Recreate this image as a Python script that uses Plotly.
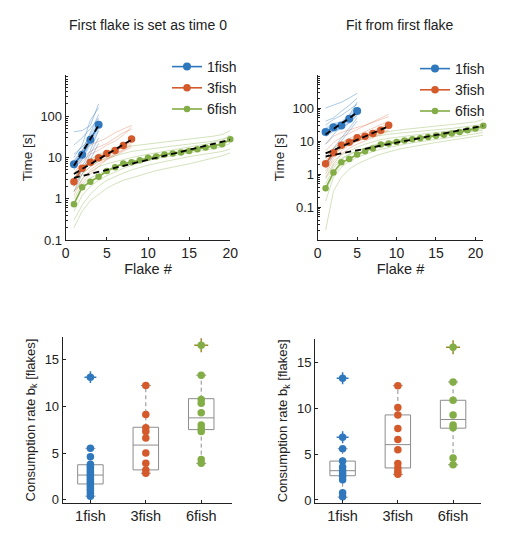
import plotly.graph_objects as go

# ---------------- data ----------------
groups = ["1fish", "3fish", "6fish"]
colors = ["#2f78bd", "#d45a2b", "#83ad46"]
thin_rgba = ["rgba(47,120,189,0.5)", "rgba(212,90,43,0.38)", "rgba(131,173,70,0.45)"]

# top-left: first flake set as time 0
L_x1 = [1, 2, 3, 4]
L_x3 = [1, 2, 3, 4, 5, 6, 7, 8]
L_x6 = list(range(1, 21))
L_mean1 = [6.9, 11.6, 27, 62]
L_mean3 = [2.6, 5.5, 7.7, 9.8, 12.5, 14.8, 19.5, 28]
L_mean6 = [0.74, 1.9, 2.6, 3.4, 4.7, 5.8, 7.2, 7.7, 8.6, 9.8,
           10.6, 11.8, 12.5, 13.2, 14.3, 15.9, 17.4, 18.8, 21.0, 27.6]
L_band1_lo = [5.2, 8.5, 19, 42]
L_band1_hi = [9.0, 16, 38, 90]
L_fit1 = [6.3, 60]
L_fit3 = [4.0, 27]
L_fit6 = [3.2, 27]
L_ind1 = [
    [42, 45, 60, 200],
    [10, 20, 80, 160],
    [5, 9, 25, 70],
    [3, 6, 15, 45],
    [12, 18, 30, 50],
    [2, 5, 12, 30],
    [7, 14, 40, 110],
    [1.5, 4, 9, 22],
    [20, 30, 50, 90],
]
L_ind3 = [
    [1.2, 3, 5, 7, 9, 12, 15, 20],
    [4, 8, 12, 15, 20, 25, 35, 55],
    [2, 4, 6, 8, 10, 12, 16, 22],
    [6, 10, 14, 18, 22, 30, 40, 48],
    [1.5, 2.5, 4, 6, 9, 11, 14, 18],
    [3, 6, 9, 11, 13, 16, 20, 28],
    [8, 15, 20, 25, 30, 40, 50, 60],
    [2.5, 5, 7, 9, 11, 14, 18, 24],
]
L_ind6 = [
    [0.2, 0.5, 0.9, 1.3, 1.8, 2.3, 2.8, 3.2, 3.7, 4.2, 4.8, 5.3, 5.9, 6.4, 7, 7.8, 8.5, 9.5, 11, 13],
    [0.5, 1.2, 2, 2.8, 3.6, 4.5, 5.5, 6.5, 7.5, 8.5, 9.4, 10.3, 11.2, 12, 13, 14, 15, 16.5, 18, 22],
    [2, 4, 6, 8, 9.5, 11, 12.5, 14, 15, 16, 17, 18, 19, 20, 21, 22, 23, 25, 28, 30],
    [1, 2.2, 3.2, 4, 5, 6, 7, 8, 9, 10, 11, 12, 13.5, 15, 16, 17, 18, 20, 22, 28],
    [0.3, 0.7, 1.3, 2, 2.8, 3.5, 4.2, 5, 5.8, 6.5, 7.2, 8, 8.8, 9.6, 10.5, 11.2, 12, 13, 14, 16],
    [3, 6, 9, 12, 14, 16, 17.5, 19, 20, 21.5, 23, 24, 25, 26.5, 28, 29.5, 31, 33, 36, 45],
    [0.8, 1.8, 2.8, 3.6, 4.6, 5.8, 7, 8, 9, 10, 11, 12, 13, 14, 15, 16, 17.5, 19, 21, 25],
    [1.5, 3, 4.5, 6, 7, 8, 9, 10, 11, 12, 13, 14, 15, 16.5, 18, 19.5, 21, 23, 26, 35],
]

# top-right: fit from first flake
R_x1 = [1, 2, 3, 4, 5]
R_x3 = [1, 2, 3, 4, 5, 6, 7, 8, 9]
R_x6 = list(range(1, 22))
R_mean1 = [18.6, 26, 29.7, 47.6, 81]
R_mean3 = [2.06, 4.4, 7.4, 9.2, 12.5, 14, 16.9, 21, 30]
R_mean6 = [0.37, 1.12, 2.26, 2.86, 3.9, 4.9, 5.9, 7.8, 8.4, 9.4, 10.4,
           11.3, 12.2, 13.2, 14.3, 15.5, 17, 18.8, 21, 24, 29]
R_band1_lo = [13, 19, 22, 34, 58]
R_band1_hi = [26, 35, 40, 65, 112]
R_fit1 = [15.8, 72]
R_fit3 = [4.2, 28]
R_fit6 = [3.4, 29]
R_ind1 = [
    [100, 120, 150, 200, 280],
    [40, 50, 80, 120, 200],
    [20, 25, 35, 60, 150],
    [8, 15, 30, 50, 90],
    [3, 6, 12, 25, 50],
    [15, 20, 25, 35, 60],
    [1.5, 4, 10, 20, 40],
    [30, 45, 60, 90, 130],
]
R_ind3 = [
    [1.2, 3, 5, 7.5, 10, 13, 16, 20, 28],
    [5, 9, 13, 17, 22, 28, 38, 50, 65],
    [2, 4, 6.5, 9, 11, 14, 18, 22, 30],
    [0.8, 2, 4, 6, 8, 10, 13, 16, 20],
    [3, 6, 9, 12, 15, 19, 24, 30, 40],
    [8, 14, 18, 22, 26, 30, 36, 45, 55],
    [1.5, 3.5, 6, 8, 10, 12, 14, 17, 22],
    [2.5, 5, 8, 10, 13, 16, 20, 26, 35],
]
R_ind6 = [
    [0.02, 0.3, 0.8, 1.4, 2, 2.6, 3.3, 4, 4.7, 5.4, 6.1, 6.8, 7.5, 8.2, 9, 9.8, 10.6, 11.5, 12.5, 13.5, 15],
    [0.15, 0.8, 1.6, 2.4, 3.2, 4, 4.8, 5.6, 6.4, 7.2, 8, 8.8, 9.6, 10.4, 11.2, 12, 13, 14, 15, 16, 18],
    [0.5, 1.5, 2.8, 3.8, 5, 6, 7, 8, 9, 10, 11, 12, 13, 14, 15, 16, 17, 18, 19.5, 21, 24],
    [1, 2.5, 3.8, 5, 6.5, 8, 9.5, 11, 12, 13, 14, 15, 16, 17, 18, 19, 20, 21.5, 23, 25, 28],
    [2, 4, 6, 8, 10, 12, 13.5, 15, 16, 17, 18, 19, 20, 21, 22, 23, 24, 25.5, 27, 29, 32],
    [0.3, 1, 2, 3, 4, 5, 6, 7, 8, 9, 10, 11, 12, 13, 14, 15, 16, 17, 18, 19, 21],
    [3, 6, 9, 11, 13, 15, 16.5, 18, 19.5, 21, 22.5, 24, 25.5, 27, 28.5, 30, 31.5, 33, 35, 38, 45],
    [0.7, 1.8, 3, 4, 5, 6.2, 7.5, 8.5, 9.5, 10.5, 11.5, 12.5, 13.5, 14.5, 15.5, 16.5, 17.5, 18.5, 20, 22, 26],
]

# bottom boxplots: consumption rate b_k
box_pos = [1, 2, 3]
BL_q1 = [1.7, 3.2, 7.5]
BL_med = [2.65, 5.85, 8.75]
BL_q3 = [3.75, 7.75, 10.8]
BL_lo = [0.4, 2.85, 3.9]
BL_hi = [5.5, 12.2, 13.3]
BL_pts = [
    [13.1, 5.5, 4.6, 3.8, 3.6, 3.4, 3.2, 3.0, 2.8, 2.6, 2.4, 2.2, 2.0, 1.8, 1.6, 1.4, 1.2, 1.0, 0.7, 0.4],
    [12.2, 9.1, 7.7, 7.3, 6.6, 5.0, 3.9, 3.2, 2.85],
    [16.5, 13.3, 10.7, 10.3, 9.3, 8.0, 7.6, 7.3, 4.3, 3.9],
]
BL_out = [[13.1], [], [16.5]]

BR_q1 = [2.65, 3.5, 7.85]
BR_med = [3.2, 6.05, 8.8]
BR_q3 = [4.25, 9.3, 10.9]
BR_lo = [0.3, 2.8, 3.85]
BR_hi = [5.6, 12.5, 12.9]
BR_pts = [
    [13.3, 6.85, 5.6, 4.25, 3.6, 3.2, 2.9, 2.6, 2.2, 0.8, 0.35],
    [12.5, 10.1, 9.3, 7.8, 6.6, 5.5, 4.0, 3.5, 3.1, 2.8],
    [16.7, 12.9, 10.9, 9.3, 8.2, 7.9, 4.6, 3.85],
]
BR_out = [[13.3, 6.85], [], [16.7]]

# ---------------- figure ----------------
fig = go.Figure()
FONT = "Liberation Sans, Arial, Helvetica, sans-serif"
INK = "#222222"
BOXC = "#8c8c8c"


def top_panel(xa, ya, xs, means, inds, fits, band_lo, band_hi, legend_name):
    for g in range(3):
        for row in inds[g]:
            fig.add_trace(go.Scatter(
                x=xs[g][:len(row)], y=row, mode="lines",
                line=dict(color=thin_rgba[g], width=0.8),
                showlegend=False, hoverinfo="skip", xaxis=xa, yaxis=ya))
    fig.add_trace(go.Scatter(x=xs[0], y=band_hi, mode="lines", line=dict(width=0),
                             showlegend=False, hoverinfo="skip", xaxis=xa, yaxis=ya))
    fig.add_trace(go.Scatter(x=xs[0], y=band_lo, mode="lines", line=dict(width=0),
                             fill="tonexty", fillcolor="rgba(100,160,220,0.35)",
                             showlegend=False, hoverinfo="skip", xaxis=xa, yaxis=ya))
    for g in range(3):
        fig.add_trace(go.Scatter(
            x=xs[g], y=means[g], mode="lines+markers", name=groups[g],
            line=dict(color=colors[g], width=1.6),
            marker=dict(color=colors[g], size=[8, 7.5, 6.5][g]),
            cliponaxis=False, showlegend=True, legend=legend_name,
            xaxis=xa, yaxis=ya))
    for g in range(3):
        fig.add_trace(go.Scatter(
            x=[xs[g][0], xs[g][-1]], y=fits[g], mode="lines",
            line=dict(color="black", width=1.8, dash="6px,4px"),
            showlegend=False, hoverinfo="skip", xaxis=xa, yaxis=ya))


top_panel("x", "y", [L_x1, L_x3, L_x6], [L_mean1, L_mean3, L_mean6],
          [L_ind1, L_ind3, L_ind6], [L_fit1, L_fit3, L_fit6],
          L_band1_lo, L_band1_hi, "legend")
top_panel("x2", "y2", [R_x1, R_x3, R_x6], [R_mean1, R_mean3, R_mean6],
          [R_ind1, R_ind3, R_ind6], [R_fit1, R_fit3, R_fit6],
          R_band1_lo, R_band1_hi, "legend2")


def box_panel(xa, ya, q1, med, q3, lo, hi, pts, outs):
    fig.add_trace(go.Box(
        x=box_pos, q1=q1, median=med, q3=q3, lowerfence=q1, upperfence=q3,
        width=0.46, fillcolor="white", line=dict(color=BOXC, width=1),
        whiskerwidth=0, boxpoints=False, showlegend=False, hoverinfo="skip",
        xaxis=xa, yaxis=ya))
    cap = 0.09
    for g in range(3):
        p = box_pos[g]
        fig.add_trace(go.Scatter(
            x=[p, p, None, p, p], y=[q3[g], hi[g], None, q1[g], lo[g]], mode="lines",
            line=dict(color=BOXC, width=1, dash="4px,3px"),
            showlegend=False, hoverinfo="skip", xaxis=xa, yaxis=ya))
        fig.add_trace(go.Scatter(
            x=[p - cap, p + cap, None, p - cap, p + cap], y=[hi[g], hi[g], None, lo[g], lo[g]],
            mode="lines", line=dict(color=BOXC, width=1),
            showlegend=False, hoverinfo="skip", xaxis=xa, yaxis=ya))
    for g in range(3):
        if outs[g]:
            oc = "#9a8a2a" if g == 2 else colors[g]
            fig.add_trace(go.Scatter(
                x=[box_pos[g]] * len(outs[g]), y=outs[g], mode="markers",
                marker=dict(color=oc, size=10 if g == 2 else 8.5, symbol="cross-thin-open",
                            line=dict(width=1.5, color=oc)),
                showlegend=False, hoverinfo="skip", xaxis=xa, yaxis=ya, cliponaxis=False))
        fig.add_trace(go.Scatter(
            x=[box_pos[g]] * len(pts[g]), y=pts[g], mode="markers",
            marker=dict(color=colors[g], size=7.5),
            showlegend=False, hoverinfo="skip", xaxis=xa, yaxis=ya, cliponaxis=False))


box_panel("x3", "y3", BL_q1, BL_med, BL_q3, BL_lo, BL_hi, BL_pts, BL_out)
box_panel("x4", "y4", BR_q1, BR_med, BR_q3, BR_lo, BR_hi, BR_pts, BR_out)

# page has an 8px body margin: figure is placed at (8, 8)
OFF = 8
FW, FH = 507, 525


def px_x(a):
    return (a - OFF) / FW


def px_y(a):
    return 1 - (a - OFF) / FH


def dx(a, b):
    return [px_x(a), px_x(b)]


def dy(top, bottom):
    return [px_y(bottom), px_y(top)]


base = dict(showline=True, linecolor=INK, linewidth=1, ticks="inside", ticklen=3,
            tickcolor=INK, showgrid=False, zeroline=False, automargin=False)
xt_top = dict(size=14, color=INK)
yt = dict(size=13, color=INK)
xt_bot = dict(size=14.5, color=INK)

minor_L = [v * m for m in [0.1, 1, 10, 100] for v in range(2, 10)]
minor_R = [v * m for m in [0.01, 0.1, 1, 10, 100] for v in range(2, 10)]

fig.update_layout(
    width=FW, height=FH, margin=dict(l=0, r=0, t=0, b=0),
    paper_bgcolor="white", plot_bgcolor="white",
    font=dict(family=FONT, size=13, color=INK),
    xaxis=dict(base, domain=dx(65.7, 230.3), range=[0, 20], tickvals=[0, 5, 10, 15, 20], tickfont=xt_top,
               title=dict(text="Flake #", standoff=3, font=dict(size=14.5)), anchor="y"),
    yaxis=dict(base, domain=dy(75, 240), type="log", range=[-1, 3], tickfont=yt,
               tickvals=[0.1, 1, 10, 100], ticktext=["0.1", "1", "10", "100"],
               minor=dict(ticks="inside", ticklen=2, tickcolor=INK, tickvals=minor_L, showgrid=False),
               title=dict(text="Time [s]", standoff=4, font=dict(size=13.5)), anchor="x"),
    xaxis2=dict(base, domain=dx(317.7, 483.3), range=[0, 21], tickvals=[0, 5, 10, 15, 20], tickfont=xt_top,
                title=dict(text="Flake #", standoff=3, font=dict(size=14.5)), anchor="y2"),
    yaxis2=dict(base, domain=dy(75, 240), type="log", range=[-2, 3], tickfont=yt,
                tickvals=[0.1, 1, 10, 100], ticktext=["0.1", "1", "10", "100"],
                minor=dict(ticks="inside", ticklen=2, tickcolor=INK, tickvals=minor_R, showgrid=False),
                title=dict(text="Time [s]", standoff=4, font=dict(size=13.5)), anchor="x2"),
    xaxis3=dict(base, domain=dx(62.7, 231.7), range=[0.5, 3.55], tickvals=box_pos, ticktext=groups,
                tickfont=xt_bot, anchor="y3"),
    yaxis3=dict(base, domain=dy(337.3, 502.7), range=[-0.3, 17.35], tickvals=[0, 5, 10, 15], tickfont=yt,
                title=dict(text="Consumption rate b<sub>k</sub> [flakes]", standoff=6, font=dict(size=13)),
                anchor="x3"),
    xaxis4=dict(base, domain=dx(315, 480.7), range=[0.5, 3.5], tickvals=box_pos, ticktext=groups,
                tickfont=xt_bot, anchor="y4"),
    yaxis4=dict(base, domain=dy(339, 502.7), range=[-0.3, 17.6], tickvals=[0, 5, 10, 15], tickfont=yt,
                title=dict(text="Consumption rate b<sub>k</sub> [flakes]", standoff=6, font=dict(size=13)),
                anchor="x4"),
    legend=dict(x=px_x(167), y=px_y(51), xanchor="left", yanchor="top", bgcolor="rgba(0,0,0,0)",
                font=dict(size=14), itemwidth=30, tracegroupgap=0, traceorder="normal"),
    legend2=dict(x=px_x(415), y=px_y(53), xanchor="left", yanchor="top", bgcolor="rgba(0,0,0,0)",
                 font=dict(size=14), itemwidth=30, tracegroupgap=0, traceorder="normal"),
    annotations=[
        dict(text="First flake is set as time 0", x=px_x(148), y=px_y(25), xref="paper", yref="paper",
             showarrow=False, font=dict(size=14, color=INK), xanchor="center", yanchor="middle"),
        dict(text="Fit from first flake", x=px_x(400), y=px_y(25), xref="paper", yref="paper",
             showarrow=False, font=dict(size=14, color=INK), xanchor="center", yanchor="middle"),
    ],
)

fig.write_html("out.html")
